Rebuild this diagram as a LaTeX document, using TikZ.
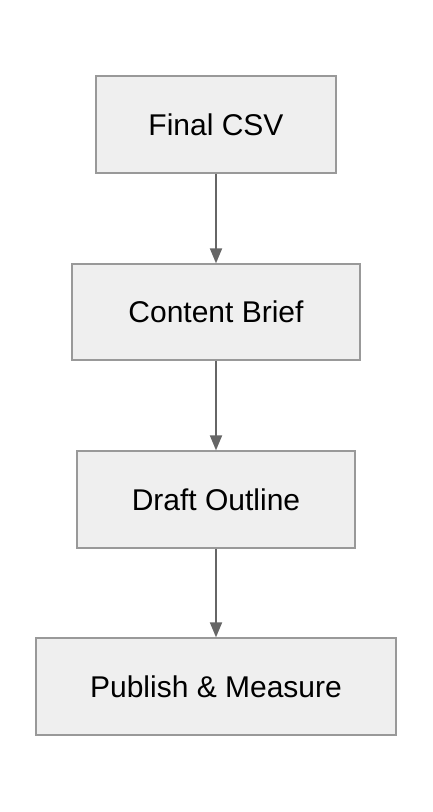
\documentclass[tikz,border=0pt]{standalone}
\usepackage{fontspec}
\setmainfont{Liberation Sans}
\usetikzlibrary{arrows.meta}
\definecolor{boxfill}{HTML}{EFEFEF}
\definecolor{boxline}{HTML}{999999}
\definecolor{arrowc}{HTML}{666666}
\begin{document}
\begin{tikzpicture}[x=1pt,y=-1pt,
  stepbox/.style={draw=boxline,fill=boxfill,line width=1.3pt,inner sep=0pt,
    font=\fontsize{30}{36}\selectfont,text=black},
  conn/.style={draw=arrowc,line width=1.8pt,-{Triangle[length=15pt,width=12pt]}}]
\useasboundingbox (0,0) rectangle (432,812);
\node[stepbox,minimum width=240pt,minimum height=97pt] (a) at (216,124.5) {Final CSV};
\node[stepbox,minimum width=288pt,minimum height=96pt] (b) at (216,312) {Content Brief};
\node[stepbox,minimum width=278pt,minimum height=97pt] (c) at (216,499.5) {Draft Outline};
\node[stepbox,minimum width=360pt,minimum height=97pt] (d) at (216,686.5) {Publish \& Measure};
\draw[conn] (a.south) -- (b.north);
\draw[conn] (b.south) -- (c.north);
\draw[conn] (c.south) -- (d.north);
\end{tikzpicture}
\end{document}
